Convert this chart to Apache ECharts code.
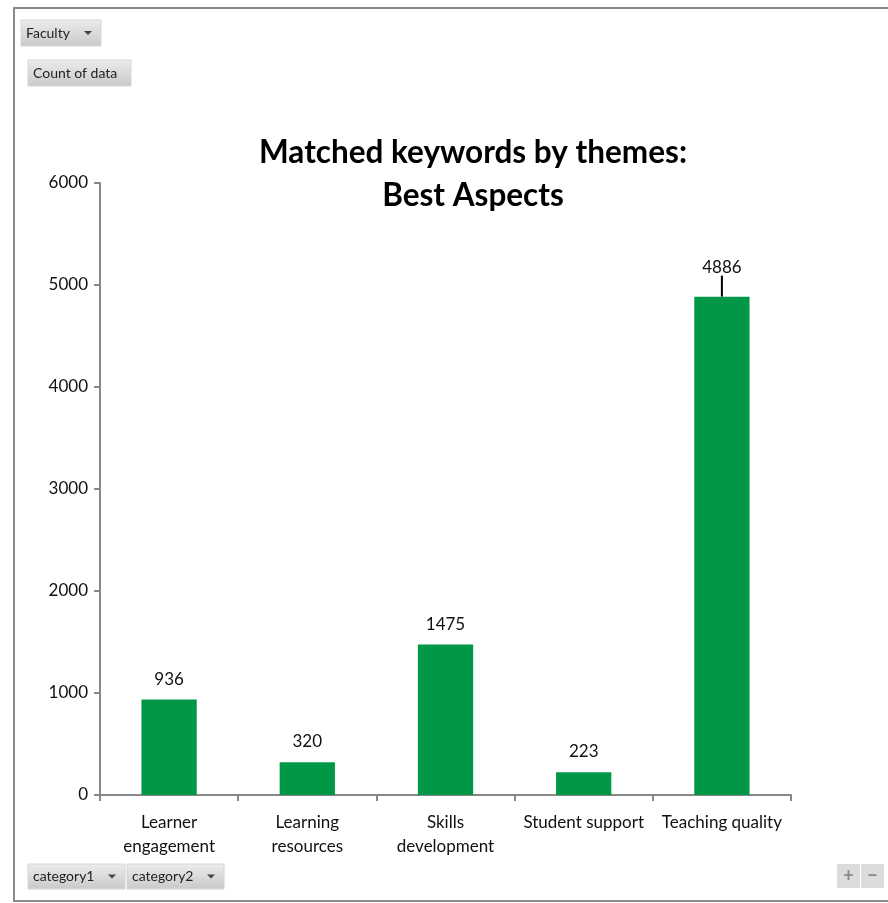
<!DOCTYPE html>
<html>
<head>
<meta charset="utf-8">
<script src="https://cdn.jsdelivr.net/npm/echarts@6/dist/echarts.min.js"></script>
<style>
  html, body { margin: 0; padding: 0; background: #fff; }
  #main { width: 888px; height: 903px; }
</style>
</head>
<body>
<div id="main"></div>
<script>
// data
var categories = ['Learner\nengagement', 'Learning\nresources', 'Skills\ndevelopment', 'Student support', 'Teaching quality'];
var counts = [936, 320, 1475, 223, 4886];
var yTicks = [0, 1000, 2000, 3000, 4000, 5000, 6000];

var FONT = 'Lato, "Open Sans", sans-serif';

// pivot-style grey button
function pivotButton(x, y, w, h, text, arrow) {
    var children = [{
        type: 'rect',
        shape: { x: 0, y: 0, width: w, height: h },
        style: {
            fill: new echarts.graphic.LinearGradient(0, 0, 0, 1, [
                { offset: 0, color: '#ececec' },
                { offset: 1, color: '#c9c9c9' }
            ]),
            stroke: '#d6d6d6', lineWidth: 1
        }
    }, {
        type: 'text',
        style: { x: 5, y: h / 2, text: text, font: '14px ' + FONT, fill: '#222', verticalAlign: 'middle' }
    }];
    if (arrow) {
        children.push({
            type: 'polygon',
            shape: { points: [[w - 17, h / 2 - 2], [w - 9, h / 2 - 2], [w - 13, h / 2 + 2]] },
            style: { fill: '#444' }
        });
    }
    return { type: 'group', x: x, y: y, children: children };
}

// only the last label was dragged up in the original, with a leader line
var barData = counts.map(function (v, i) {
    if (i === counts.length - 1) {
        return { value: v, labelLine: { show: true, lineStyle: { color: '#000', width: 2 } } };
    }
    return v;
});

var myChart = echarts.init(document.getElementById('main'), null, { renderer: 'canvas' });

var option = {
    backgroundColor: '#fff',
    animation: false,
    title: {
        text: 'Matched keywords by themes:\nBest Aspects',
        left: 468, top: 126, textAlign: 'center',
        textStyle: { fontFamily: FONT, fontWeight: 'bold', fontSize: 31.5, lineHeight: 43, color: '#000' }
    },
    grid: { left: 100, right: 97, top: 183, bottom: 108, containLabel: false },
    xAxis: {
        type: 'category',
        data: categories,
        axisLine: { lineStyle: { color: '#888', width: 2 } },
        axisTick: { show: true, length: 6, alignWithLabel: false, lineStyle: { color: '#888', width: 2 } },
        axisLabel: { fontFamily: FONT, fontSize: 17, color: '#111', lineHeight: 24, margin: 16, interval: 0 }
    },
    yAxis: {
        type: 'value',
        min: yTicks[0], max: yTicks[yTicks.length - 1], interval: 1000,
        splitLine: { show: false },
        axisLine: { show: true, lineStyle: { color: '#888', width: 2 } },
        axisTick: { show: true, length: 6, lineStyle: { color: '#888', width: 2 } },
        axisLabel: { fontFamily: FONT, fontSize: 17, color: '#111', margin: 12, formatter: function (v) { return String(v); } }
    },
    series: [{
        type: 'bar',
        data: barData,
        barWidth: '40%',
        itemStyle: { color: '#009846' },
        label: {
            show: true, position: 'top', distance: 12,
            fontFamily: FONT, fontSize: 17, color: '#111'
        },
        labelLine: { show: false },
        labelLayout: function (params) {
            if (params.dataIndex === counts.length - 1) {
                return { dy: -9 };
            }
            return {};
        }
    }],
    graphic: [{
        type: 'rect',
        shape: { x: 14, y: 8, width: 900, height: 893 },
        style: { fill: 'none', stroke: '#8a8a8a', lineWidth: 2 },
        silent: true
    },
        pivotButton(21, 20, 80, 26, 'Faculty', true),
        pivotButton(28, 60, 103, 26, 'Count of data', false),
        pivotButton(28, 864, 97, 25, 'category1', true),
        pivotButton(127, 864, 97, 25, 'category2', true),
        {
            type: 'group', x: 837, y: 864,
            children: [
                { type: 'rect', shape: { x: 0, y: 0, width: 23, height: 24 }, style: { fill: '#dcdcdc' } },
                { type: 'rect', shape: { x: 24, y: 0, width: 23, height: 24 }, style: { fill: '#dcdcdc' } },
                { type: 'text', style: { x: 11.5, y: 12, text: '+', font: 'bold 18px ' + FONT, fill: '#888', align: 'center', verticalAlign: 'middle' } },
                { type: 'text', style: { x: 35.5, y: 12, text: '−', font: 'bold 18px ' + FONT, fill: '#888', align: 'center', verticalAlign: 'middle' } }
            ]
        }
    ]
};

myChart.setOption(option);
</script>
</body>
</html>
